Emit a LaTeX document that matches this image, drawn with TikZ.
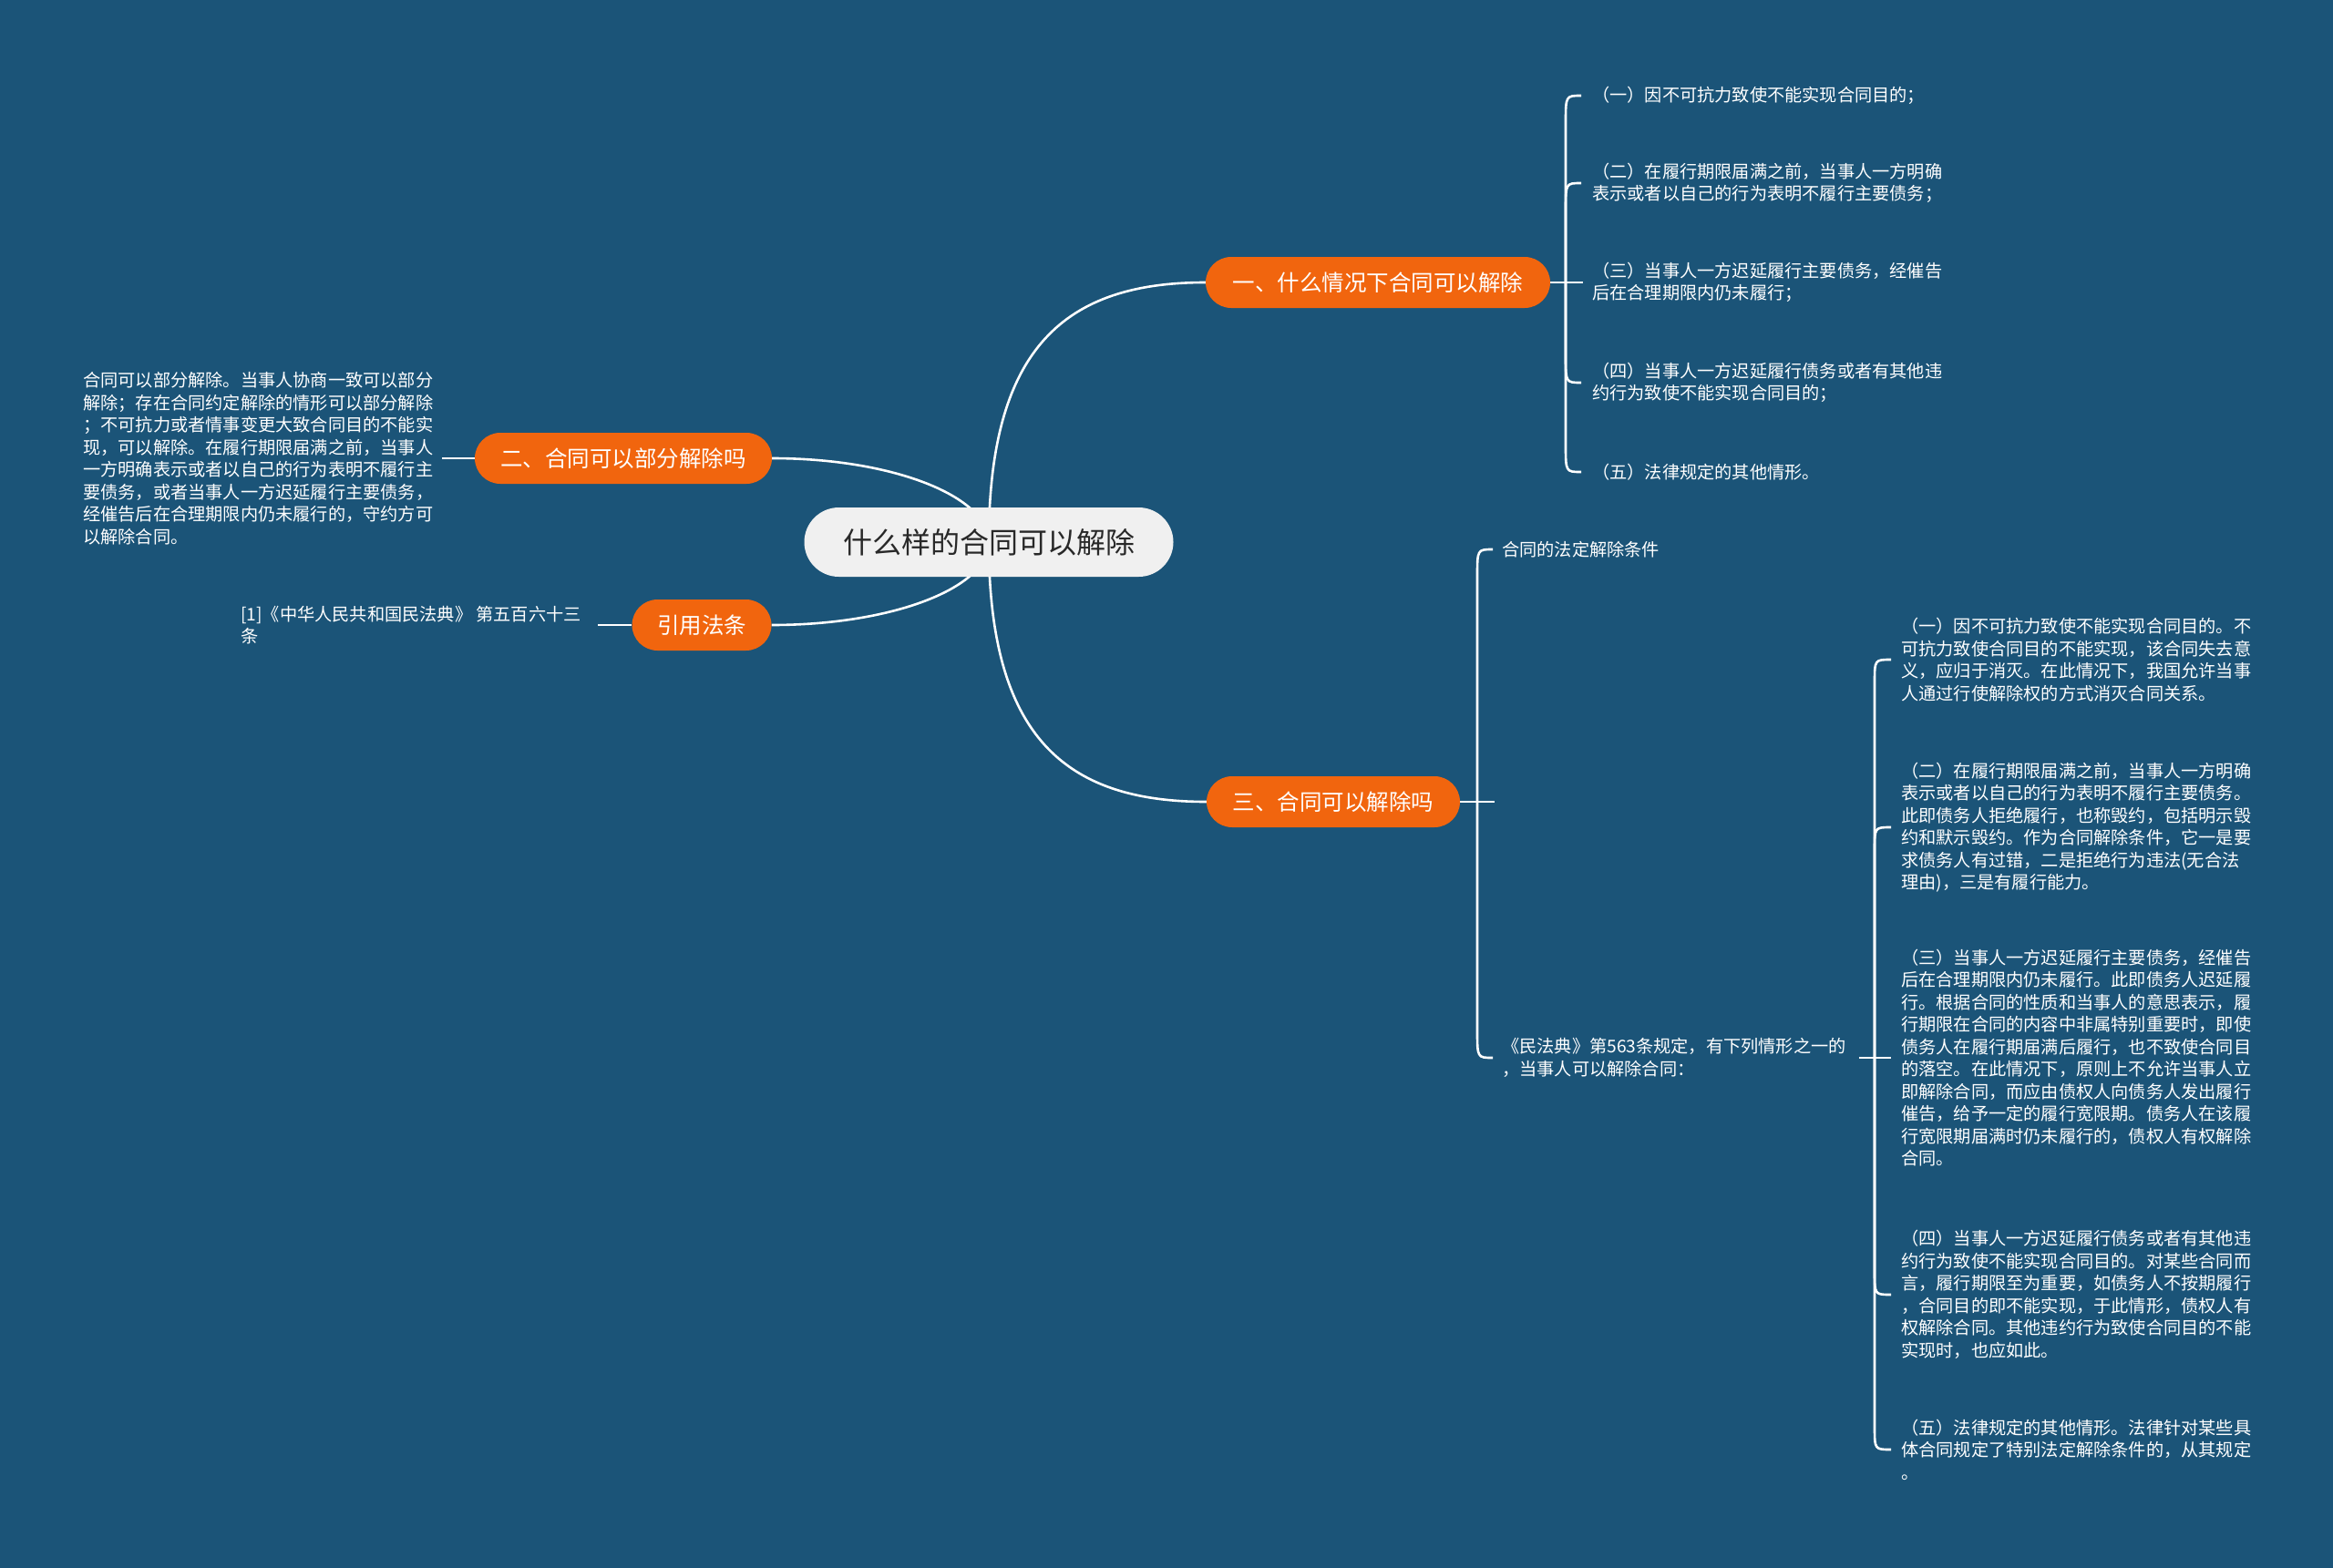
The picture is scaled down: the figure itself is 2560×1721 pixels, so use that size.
\documentclass[tikz,border=0pt]{standalone}
\usepackage{fontspec}
\setmainfont{Noto Sans CJK SC}
\definecolor{bgblue}{RGB}{27,84,120}
\definecolor{orgfill}{RGB}{241,101,14}
\definecolor{cenfill}{RGB}{240,240,240}
\definecolor{centext}{RGB}{40,40,40}
\pgfdeclarelayer{back}
\pgfdeclarelayer{lines}
\pgfsetlayers{back,lines,main}
\begin{document}
\begin{tikzpicture}[x=1pt,y=-1pt,
  conn/.style={draw=white,line width=2.6pt},
  central/.style={fill=cenfill,text=centext,rounded corners=38pt,minimum width=405pt,minimum height=76pt,inner sep=0pt,font=\fontsize{32}{38}\selectfont},
  branch/.style={fill=orgfill,text=white,rounded corners=28pt,minimum height=56pt,inner xsep=20pt,inner ysep=0pt,font=\fontsize{24.5}{29}\selectfont},
  leaf/.style={text=white,align=left,inner sep=0pt,anchor=west,font=\fontsize{19.2}{24.5}\selectfont}]
\begin{pgfonlayer}{back}
\fill[bgblue] (0,0) rectangle (2560,1721);
\end{pgfonlayer}
\useasboundingbox (0,0) rectangle (2560,1721);

% main nodes
\node[central] (c) at (1085,595) {什么样的合同可以解除};
\node[branch,minimum width=378pt] (b1) at (1512,310) {一、什么情况下合同可以解除};
\node[branch,minimum width=326pt] (b2) at (684,503) {二、合同可以部分解除吗};
\node[branch,minimum width=153pt] (b4) at (770,686) {引用法条};
\node[branch,minimum width=278pt] (b3) at (1463,880) {三、合同可以解除吗};

% branch 1 leaves
\node[leaf] (l1) at (1747,105) {（一）因不可抗力致使不能实现合同目的；};
\node[leaf] (l2) at (1747,201) {（二）在履行期限届满之前，当事人一方明确\\表示或者以自己的行为表明不履行主要债务；};
\node[leaf] (l3) at (1747,310) {（三）当事人一方迟延履行主要债务，经催告\\后在合理期限内仍未履行；};
\node[leaf] (l4) at (1747,420) {（四）当事人一方迟延履行债务或者有其他违\\约行为致使不能实现合同目的；};
\node[leaf] (l5) at (1747,518) {（五）法律规定的其他情形。};

% branch 2 leaf
\node[leaf] (p) at (91,503) {合同可以部分解除。当事人协商一致可以部分\\解除；存在合同约定解除的情形可以部分解除\\；不可抗力或者情事变更大致合同目的不能实\\现，可以解除。在履行期限届满之前，当事人\\一方明确表示或者以自己的行为表明不履行主\\要债务，或者当事人一方迟延履行主要债务，\\经催告后在合理期限内仍未履行的，守约方可\\以解除合同。};

% reference leaf
\node[leaf] (r) at (264,686) {[1]《中华人民共和国民法典》 第五百六十三\\条};

% branch 3 children
\node[leaf] (k1) at (1648,603) {合同的法定解除条件};
\node[leaf] (k2) at (1648,1161) {《民法典》第563条规定，有下列情形之一的\\，当事人可以解除合同：};

% sub leaves
\node[leaf] (s1) at (2086,724) {（一）因不可抗力致使不能实现合同目的。不\\可抗力致使合同目的不能实现，该合同失去意\\义，应归于消灭。在此情况下，我国允许当事\\人通过行使解除权的方式消灭合同关系。};
\node[leaf] (s2) at (2086,908) {（二）在履行期限届满之前，当事人一方明确\\表示或者以自己的行为表明不履行主要债务。\\此即债务人拒绝履行，也称毁约，包括明示毁\\约和默示毁约。作为合同解除条件，它一是要\\求债务人有过错，二是拒绝行为违法(无合法\\理由)，三是有履行能力。};
\node[leaf] (s3) at (2086,1161) {（三）当事人一方迟延履行主要债务，经催告\\后在合理期限内仍未履行。此即债务人迟延履\\行。根据合同的性质和当事人的意思表示，履\\行期限在合同的内容中非属特别重要时，即使\\债务人在履行期届满后履行，也不致使合同目\\的落空。在此情况下，原则上不允许当事人立\\即解除合同，而应由债权人向债务人发出履行\\催告，给予一定的履行宽限期。债务人在该履\\行宽限期届满时仍未履行的，债权人有权解除\\合同。};
\node[leaf] (s4) at (2086,1421) {（四）当事人一方迟延履行债务或者有其他违\\约行为致使不能实现合同目的。对某些合同而\\言，履行期限至为重要，如债务人不按期履行\\，合同目的即不能实现，于此情形，债权人有\\权解除合同。其他违约行为致使合同目的不能\\实现时，也应如此。};
\node[leaf] (s5) at (2086,1591) {（五）法律规定的其他情形。法律针对某些具\\体合同规定了特别法定解除条件的，从其规定\\。};

\coordinate (j1) at (1718,310);
\coordinate (j2) at (1621,880);
\coordinate (j2e) at (1640,880);
\coordinate (j3) at (2057,1161);

\begin{pgfonlayer}{lines}
% center to branches
\draw[conn] (c.center) .. controls (1085,380) and (1170,310) .. (b1.west);
\draw[conn] (c.center) .. controls (1085,810) and (1170,880) .. (b3.west);
\draw[conn] (c.center) .. controls (1085,545) and (980,503) .. (b2.east);
\draw[conn] (c.center) .. controls (1085,645) and (980,686) .. (b4.east);
% left leaves
\draw[conn] (b2.west) -- ([xshift=10pt]p.east);
\draw[conn] (b4.west) -- ([xshift=18pt]r.east);
% branch 1 bracket
\draw[conn] (b1.east) -- ([xshift=-10pt]l3.west);
\draw[conn] (j1) -- (1718,135) .. controls (1718,105) .. ([xshift=-12pt]l1.west);
\draw[conn] (j1) -- (1718,231) .. controls (1718,201) .. ([xshift=-12pt]l2.west);
\draw[conn] (j1) -- (1718,390) .. controls (1718,420) .. ([xshift=-12pt]l4.west);
\draw[conn] (j1) -- (1718,488) .. controls (1718,518) .. ([xshift=-12pt]l5.west);
% branch 3 bracket
\draw[conn] (b3.east) -- (j2e);
\draw[conn] (j2) -- (1621,633) .. controls (1621,603) .. ([xshift=-10pt]k1.west);
\draw[conn] (j2) -- (1621,1131) .. controls (1621,1161) .. ([xshift=-10pt]k2.west);
% sub bracket
\draw[conn] ([xshift=14pt]k2.east) -- ([xshift=-11pt]s3.west);
\draw[conn] (j3) -- (2057,749) .. controls (2057,724) .. ([xshift=-11pt]s1.west);
\draw[conn] (j3) -- (2057,933) .. controls (2057,908) .. ([xshift=-11pt]s2.west);
\draw[conn] (j3) -- (2057,1396) .. controls (2057,1421) .. ([xshift=-11pt]s4.west);
\draw[conn] (j3) -- (2057,1566) .. controls (2057,1591) .. ([xshift=-11pt]s5.west);
\end{pgfonlayer}
\end{tikzpicture}
\end{document}
